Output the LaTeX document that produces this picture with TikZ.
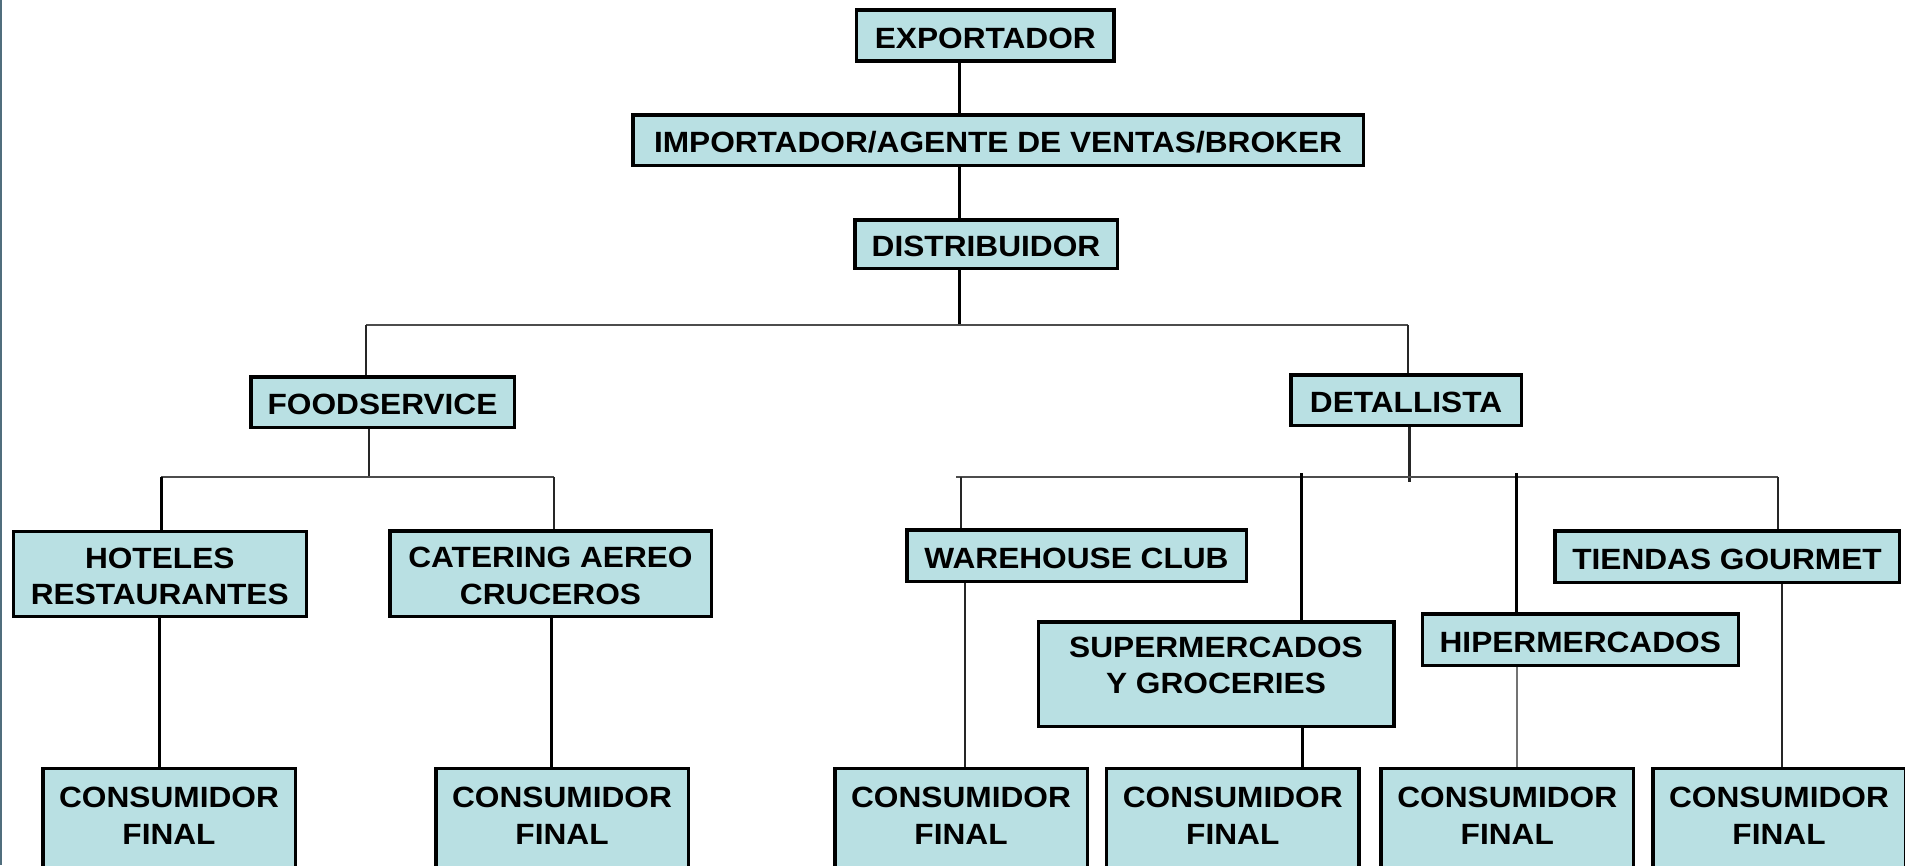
\documentclass[tikz,border=0pt]{standalone}
\usepackage{fontspec}
\setmainfont{Liberation Sans}[FakeStretch=1.08]
\definecolor{boxfill}{RGB}{185,224,227}
\definecolor{edgeline}{RGB}{80,110,125}
\newcommand\mystrutA{\rule{0pt}{25.5pt}}
\newcommand\mystrutB[1]{\rule[-#1]{0pt}{#1}}
\tikzset{
  box/.style={draw=black, line width=3.5pt, fill=boxfill, inner sep=0pt,
    font=\bfseries\fontsize{29.3}{36.5}\selectfont},
  one/.style={box, text height=25.5pt, text depth=0pt},
  two/.style={box, align=center},
  cons/.style={box, align=center, anchor=north, inner ysep=13.75pt, minimum width=252.5pt},
  link/.style={line width=3pt, black},
  thin/.style={line width=2.2pt, black!85},
  bar/.style={line width=2.6pt, black!70},
}
\begin{document}
\begin{tikzpicture}[x=1pt,y=-1pt]
\useasboundingbox (0,0) rectangle (1905,865);
\clip (0,0) rectangle (1905,865);
\fill[white] (0,0) rectangle (1905,865);
\draw[line width=2pt, edgeline] (1,0) -- (1,865);

% nodes
\node[one, minimum width=257.8pt, minimum height=50.9pt] (exp) at (985.3,35.5) {EXPORTADOR};
\node[one, minimum width=730.5pt, minimum height=50.5pt] (imp) at (998,140) {IMPORTADOR/AGENTE DE VENTAS/BROKER};
\node[one, minimum width=262.5pt, minimum height=48.5pt] (dis) at (986,244) {DISTRIBUIDOR};
\node[one, minimum width=263.5pt, minimum height=50.5pt] (food) at (382.5,402) {FOODSERVICE};
\node[one, minimum width=230.5pt, minimum height=50.5pt] (det) at (1406,400) {DETALLISTA};
\node[two, minimum width=293pt, minimum height=85pt] (hot) at (159.75,573.75) {\mystrutA HOTELES\\RESTAURANTES};
\node[two, minimum width=321.5pt, minimum height=85.5pt] (cat) at (550.5,573.5) {\mystrutA CATERING AEREO\\CRUCEROS};
\node[one, minimum width=339.5pt, minimum height=51.5pt] (ware) at (1076.5,555.5) {WAREHOUSE CLUB};
\node[two, minimum width=355.5pt, minimum height=104.5pt] (sup) at (1216,674) {\mystrutA SUPERMERCADOS\\Y GROCERIES\mystrutB{22.6pt}};
\node[one, minimum width=316pt, minimum height=51.5pt] (hip) at (1580.25,639.5) {HIPERMERCADOS};
\node[one, minimum width=344.5pt, minimum height=51.5pt] (tie) at (1727,556.5) {TIENDAS GOURMET};

\node[cons] (c1) at (169,766.75) {\mystrutA CONSUMIDOR\\FINAL\mystrutB{40pt}};
\node[cons] (c2) at (562,766.75) {\mystrutA CONSUMIDOR\\FINAL\mystrutB{40pt}};
\node[cons] (c3) at (961,766.75) {\mystrutA CONSUMIDOR\\FINAL\mystrutB{40pt}};
\node[cons] (c4) at (1232.75,766.75) {\mystrutA CONSUMIDOR\\FINAL\mystrutB{40pt}};
\node[cons] (c5) at (1507.25,766.75) {\mystrutA CONSUMIDOR\\FINAL\mystrutB{40pt}};
\node[cons] (c6) at (1779,766.75) {\mystrutA CONSUMIDOR\\FINAL\mystrutB{40pt}};

% coordinates of the branch lines
\coordinate (tx) at (959,0);
\coordinate (b1l) at (366,325);
\coordinate (b1r) at (1408,325);
\coordinate (b2l) at (161,477);
\coordinate (b2r) at (554,477);
\coordinate (b2m) at (369,477);
\coordinate (b3l) at (956,477);
\coordinate (b3r) at (1778,477);
\coordinate (b3m) at (1409.5,482);
\coordinate (xw) at (961,473);
\coordinate (xs) at (1301.5,473);
\coordinate (xh) at (1516.7,473);
\coordinate (xwd) at (965,0);
\coordinate (xsd) at (1302,0);
\coordinate (xtd) at (1782,0);
\coordinate (xhd) at (1517,0);
\coordinate (xhod) at (159,0);
\coordinate (xcad) at (551,0);

% trunk
\draw[link] (exp.south -| tx) -- (imp.north -| tx);
\draw[link] (imp.south -| tx) -- (dis.north -| tx);
\draw[link] (dis.south -| tx) -- (tx |- b1l);
\draw[bar] (b1l) -- (b1r);
\draw[thin] (b1l) -- (food.north -| b1l);
\draw[thin] (b1r) -- (det.north -| b1r);

% foodservice
\draw[thin] (food.south -| b2m) -- (b2m);
\draw[bar] (b2l) -- (b2r);
\draw[link] (b2l) -- (hot.north -| b2l);
\draw[thin] (b2r) -- (cat.north -| b2r);
\draw[link] (hot.south -| xhod) -- (c1.north -| xhod);
\draw[link] (cat.south -| xcad) -- (c2.north -| xcad);

% detallista
\draw[thin] (det.south -| b3m) -- (b3m);
\draw[bar] (b3l) -- (b3r);
\draw[thin] (xw |- b3l) -- (ware.north -| xw);
\draw[line width=3.5pt] (xs) -- (sup.north -| xs);
\draw[line width=3.5pt] (xh) -- (hip.north -| xh);
\draw[thin] (b3r) -- (tie.north -| b3r);
\draw[thin] (ware.south -| xwd) -- (c3.north -| xwd);
\draw[link] (sup.south -| xsd) -- (c4.north -| xsd);
\draw[line width=2pt, black!55] (hip.south -| xhd) -- (c5.north -| xhd);
\draw[thin] (tie.south -| xtd) -- (c6.north -| xtd);
\end{tikzpicture}
\end{document}
